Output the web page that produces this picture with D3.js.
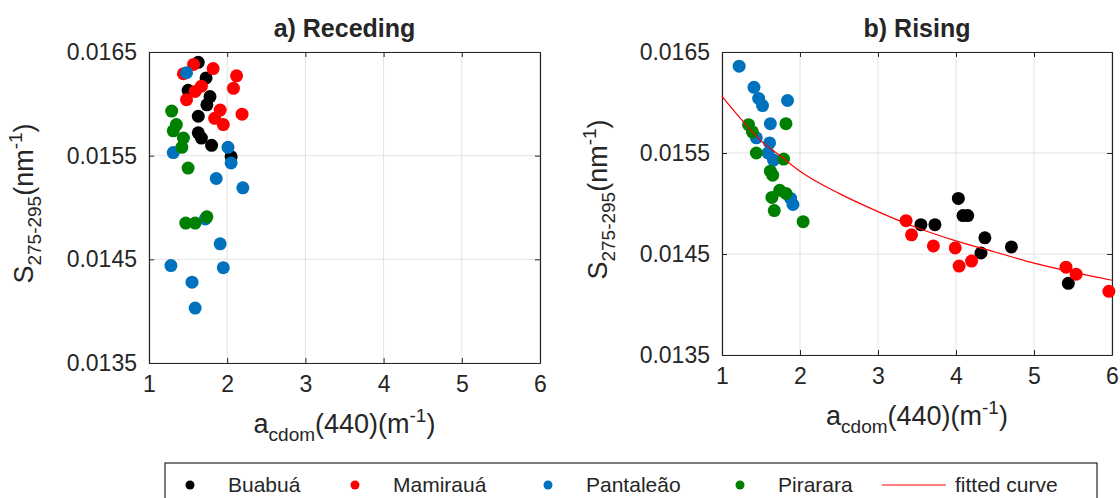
<!DOCTYPE html>
<html>
<head>
<meta charset="utf-8">
<script src="https://cdn.jsdelivr.net/npm/d3@7"></script>
<style>
body { margin:0; background:#fff; }
text { font-family: "Liberation Sans", Arial, sans-serif; fill:#262626; }
</style>
</head>
<body>
<svg id="chart" width="1120" height="498"></svg>
<script>
let xTicks = [1, 2, 3, 4, 5, 6];
let yTicks = [0.0135, 0.0145, 0.0155, 0.0165];
let sites = ["Buabuá", "Mamirauá", "Pantaleão", "Pirarara"];
let siteColors = ["#000000", "#ff0000", "#0072bd", "#008000"];

// a) receding : [acdom(440), S275-295]
let recBuabua = [[1.63,0.01640],[1.73,0.01625],[1.50,0.01613],[1.78,0.01607],[1.74,0.01599],
                 [1.63,0.01588],[1.63,0.01572],[1.67,0.01567],[1.80,0.01560],[2.05,0.01549]];
let recMamiraua = [[1.57,0.01638],[1.44,0.01629],[1.82,0.01634],[2.12,0.01627],[2.08,0.01615],
                   [1.67,0.01617],[1.59,0.01612],[1.48,0.01604],[1.91,0.01594],[1.84,0.01586],
                   [1.95,0.01580],[2.19,0.01590]];
let recPantaleao = [[1.48,0.01630],[1.31,0.01553],[2.01,0.01558],[2.05,0.01543],[1.86,0.01528],
                    [2.20,0.01519],[1.72,0.01489],[1.91,0.01465],[1.28,0.01444],[1.95,0.01442],
                    [1.55,0.01428],[1.59,0.01403]];
let recPirarara = [[1.29,0.01593],[1.35,0.01580],[1.31,0.01574],[1.44,0.01567],[1.42,0.01558],
                   [1.50,0.01538],[1.47,0.01485],[1.59,0.01485],[1.74,0.01491]];

// b) rising
let risBuabua = [[4.03,0.01505],[4.09,0.01488],[4.15,0.01488],[3.55,0.01479],[3.73,0.01479],
                 [4.37,0.01466],[4.71,0.01457],[4.32,0.01451],[5.44,0.01421]];
let risMamiraua = [[3.36,0.01483],[3.43,0.01469],[3.71,0.01458],[3.99,0.01456],[4.04,0.01438],
                   [4.20,0.01443],[5.41,0.01437],[5.54,0.01430],[5.96,0.01413]];
let risPantaleao = [[1.22,0.01636],[1.41,0.01615],[1.47,0.01604],[1.52,0.01597],[1.84,0.01602],
                    [1.62,0.01579],[1.44,0.01565],[1.61,0.01560],[1.59,0.01550],[1.66,0.01543],
                    [1.88,0.01505],[1.91,0.01499]];
let risPirarara = [[1.34,0.01578],[1.39,0.01571],[1.82,0.01579],[1.44,0.01550],[1.79,0.01544],
                   [1.62,0.01532],[1.65,0.01528],[1.74,0.01513],[1.82,0.01510],[1.64,0.01506],
                   [1.67,0.01493],[2.04,0.01482]];

// fitted curve
let fitX = [1, 1.25, 1.5, 1.75, 2, 2.5, 3, 3.5, 4, 4.5, 5, 5.5, 6];
let fitY = [0.01606, 0.01583, 0.01562, 0.01547, 0.01532, 0.01510, 0.01492, 0.01476, 0.01463, 0.01452, 0.01441, 0.01432, 0.01424];

let svg = d3.select("#chart");

let panels = [
    {title:"a) Receding", left:149, right:540, top:52, bottom:363, ylabX:33,
     series:[recBuabua, recMamiraua, recPantaleao, recPirarara], fit:false},
    {title:"b) Rising", left:722, right:1112, top:52, bottom:355, ylabX:607,
     series:[risBuabua, risMamiraua, risPantaleao, risPirarara], fit:true}
];

panels.forEach(drawPanel);

function drawPanel(p) {
    let w = p.right - p.left, h = p.bottom - p.top;
    let xScale = d3.scaleLinear().domain([1, 6]).range([0, w]);
    let yScale = d3.scaleLinear().domain([0.0135, 0.0165]).range([h, 0]);

    let g = svg.append("g").attr("transform", "translate(" + p.left + "," + p.top + ")");

    // grid
    g.selectAll(".gx").data(xTicks).enter().append("line")
        .attr("x1", d => xScale(d)).attr("x2", d => xScale(d))
        .attr("y1", 0).attr("y2", h)
        .attr("stroke", "#e3e3e3").attr("stroke-width", 1);
    g.selectAll(".gy").data(yTicks).enter().append("line")
        .attr("x1", 0).attr("x2", w)
        .attr("y1", d => yScale(d)).attr("y2", d => yScale(d))
        .attr("stroke", "#e3e3e3").attr("stroke-width", 1);

    // axes
    g.append("g").attr("transform", "translate(0," + h + ")")
        .call(d3.axisBottom(xScale).tickValues(xTicks).tickFormat(d3.format("d"))
            .tickSizeInner(-5).tickSizeOuter(0).tickPadding(13));
    g.append("g")
        .call(d3.axisLeft(yScale).tickValues(yTicks).tickFormat(d3.format(".4f"))
            .tickSizeInner(-5).tickSizeOuter(0).tickPadding(12));
    g.append("g").call(d3.axisTop(xScale).tickValues(xTicks).tickSizeInner(-5).tickSizeOuter(0).tickFormat(""));
    g.append("g").attr("transform", "translate(" + w + ",0)")
        .call(d3.axisRight(yScale).tickValues(yTicks).tickSizeInner(-5).tickSizeOuter(0).tickFormat(""));
    g.selectAll(".domain").attr("stroke", "#262626").attr("stroke-width", 1.2);
    g.selectAll(".tick line").attr("stroke", "#262626");
    g.selectAll(".tick text").attr("font-size", 23).attr("fill", "#262626")
        .style("font-family", "'Liberation Sans', Arial, sans-serif");

    // points
    p.series.forEach(function(s, i) {
        g.selectAll(".pt" + i).data(s).enter().append("circle")
            .attr("cx", d => xScale(d[0]))
            .attr("cy", d => yScale(d[1]))
            .attr("r", 6.5)
            .attr("fill", siteColors[i]);
    });

    if (p.fit) {
        let line = d3.line().x(d => xScale(d[0])).y(d => yScale(d[1])).curve(d3.curveMonotoneX);
        g.append("path").datum(fitX.map((x, i) => [x, fitY[i]]))
            .attr("d", line).attr("fill", "none").attr("stroke", "#ff0000").attr("stroke-width", 1.2);
    }

    // title
    svg.append("text")
        .attr("x", p.left + w / 2).attr("y", 37)
        .attr("text-anchor", "middle")
        .attr("font-size", 25).attr("font-weight", "bold")
        .attr("fill", "#000")
        .text(p.title);

    // x label
    let xl = svg.append("text")
        .attr("x", p.left + w / 2).attr("y", p.bottom + 70)
        .attr("text-anchor", "middle").attr("font-size", 27);
    xl.append("tspan").text("a");
    xl.append("tspan").attr("font-size", 19).attr("dy", 8).text("cdom");
    xl.append("tspan").attr("dy", -8).text("(440)(m");
    xl.append("tspan").attr("font-size", 19).attr("dy", -11).text("-1");
    xl.append("tspan").attr("dy", 11).text(")");

    // y label
    let yl = svg.append("text")
        .attr("transform", "translate(" + p.ylabX + "," + (p.top + h / 2 - 4) + ") rotate(-90)")
        .attr("text-anchor", "middle").attr("font-size", 27);
    yl.append("tspan").text("S");
    yl.append("tspan").attr("font-size", 19).attr("dy", 8).text("275-295");
    yl.append("tspan").attr("dy", -8).text("(nm");
    yl.append("tspan").attr("font-size", 19).attr("dy", -11).text("-1");
    yl.append("tspan").attr("dy", 11).text(")");
}

// legend
let legend = svg.append("g");
legend.append("rect")
    .attr("x", 165).attr("y", 463).attr("width", 932).attr("height", 50)
    .attr("fill", "#fff").attr("stroke", "#262626").attr("stroke-width", 1.2);
let legX = [190, 355, 548, 740];
sites.forEach(function(name, i) {
    legend.append("circle").attr("cx", legX[i]).attr("cy", 485).attr("r", 4.5).attr("fill", siteColors[i]);
    legend.append("text").attr("x", legX[i] + 38).attr("y", 492)
        .attr("font-size", 21).attr("fill", "#000").text(name);
});
legend.append("line").attr("x1", 882).attr("x2", 946).attr("y1", 485).attr("y2", 485)
    .attr("stroke", "#ff0000").attr("stroke-width", 1.2);
legend.append("text").attr("x", 955).attr("y", 492)
    .attr("font-size", 21).attr("fill", "#000").text("fitted curve");
</script>
</body>
</html>
